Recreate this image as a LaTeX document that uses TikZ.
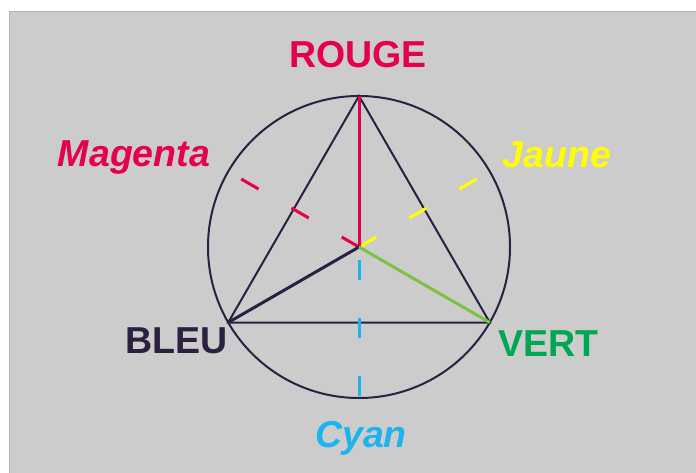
\documentclass[tikz,border=0pt]{standalone}
\usepackage{fontspec}
\setmainfont{Liberation Sans}
\definecolor{bg}{HTML}{CCCCCC}
\definecolor{edge}{HTML}{B4B4B4}
\definecolor{ink}{HTML}{2A2040}
\definecolor{rouge}{HTML}{E6004C}
\definecolor{jaune}{HTML}{FFFF00}
\definecolor{vert}{HTML}{00A651}
\definecolor{lvert}{HTML}{7CC242}
\definecolor{cyanc}{HTML}{1CB4EE}
\begin{document}
\begin{tikzpicture}[x=1pt,y=-1pt,
  lbl/.style={font=\fontsize{37.5}{40}\selectfont\bfseries, anchor=base, inner sep=0pt},
  ilbl/.style={lbl, font=\fontsize{37.5}{40}\selectfont\bfseries\itshape},
  tri/.style={draw=ink, line width=2pt},
  axis/.style={line width=3pt},
  dsh/.style={line width=3pt, dash pattern=on 20pt off 38pt}]
\useasboundingbox (0,0) rectangle (696,473);
\fill[white] (0,0) rectangle (696,473);
\fill[bg] (9,11) rectangle (696,473);
\draw[edge, line width=1pt] (9.5,473) -- (9.5,11.5) -- (696,11.5);
% geometry
\coordinate (C) at (359,247);
\coordinate (R) at (359,96);
\coordinate (B) at (228.2,322.5);
\coordinate (V) at (489.8,322.5);
\coordinate (Mend) at (241.2,179);
\coordinate (Jend) at (479.4,177.5);
\coordinate (Cst) at (359,260);
\coordinate (Cend) at (359,398);
% circle
\node[draw=ink, line width=2pt, circle, minimum size=302pt, inner sep=0pt] (circ) at (C) {};
% triangle
\draw[tri] (R) -- (B) -- (V) -- cycle;
% dashed axes
\draw[dsh, rouge] (C) -- (Mend);
\draw[dsh, jaune] (C) -- (Jend);
\draw[dsh, cyanc] (Cst) -- (Cend);
% solid axes
\draw[axis, rouge] (C) -- (R);
\draw[axis, ink] (C) -- (B);
\draw[axis, lvert] (C) -- (V);
% labels
\node[lbl, text=rouge] (lr) at (358,68) {ROUGE};
\node[ilbl, text=rouge] (lm) at (134,167) {Magenta};
\node[ilbl, text=jaune] (lj) at (557,168) {Jaune};
\node[lbl, text=ink] (lb) at (176.5,353) {BLEU};
\node[lbl, text=vert] (lv) at (548.5,356) {VERT};
\node[ilbl, text=cyanc] (lc) at (361,447) {Cyan};
\end{tikzpicture}
\end{document}
